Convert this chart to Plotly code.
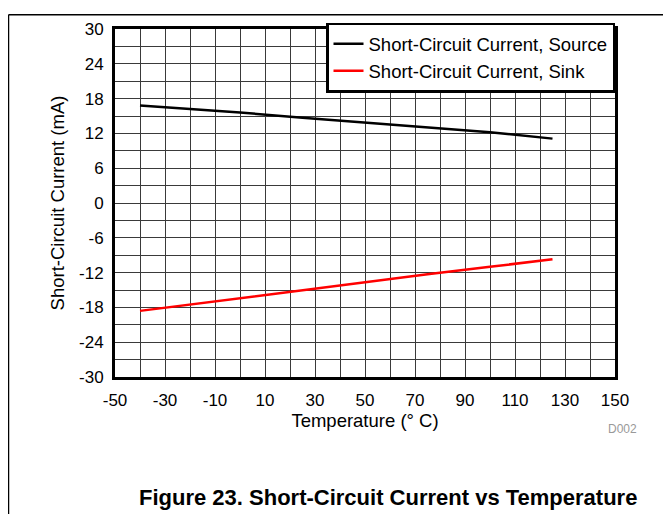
import plotly.graph_objects as go

temperature = [-40, -20, 0, 25, 50, 75, 100, 125]
source_ma = [16.8, 16.2, 15.6, 14.7, 13.9, 13.1, 12.2, 11.1]
sink_ma = [-18.6, -17.5, -16.4, -15.1, -13.6, -12.3, -11.0, -9.7]

x_ticks = list(range(-50, 151, 20))
x_tick_labels = [str(v) for v in x_ticks]
y_ticks = list(range(-30, 31, 6))
y_tick_labels = [str(v) for v in y_ticks]

FONT = "Liberation Sans, Arial, sans-serif"

fig = go.Figure()
fig.add_trace(go.Scatter(x=temperature, y=source_ma, mode="lines",
                         name="Short-Circuit Current, Source",
                         line=dict(color="black", width=2.5)))
fig.add_trace(go.Scatter(x=temperature, y=sink_ma, mode="lines",
                         name="Short-Circuit Current, Sink",
                         line=dict(color="#ff0000", width=2.5)))

grid_color = "#3a3a3a"
fig.update_layout(
    width=663, height=506,
    margin=dict(l=107, r=56, t=15, b=137),
    paper_bgcolor="white", plot_bgcolor="white",
    font=dict(family=FONT, size=17, color="black"),
    showlegend=True,
    legend=dict(x=1, xanchor="right", y=1.018, yanchor="top",
                bgcolor="white", bordercolor="black", borderwidth=2.5,
                font=dict(size=18.5), tracegroupgap=0),
    xaxis=dict(range=[-50, 150], tickvals=x_ticks, ticktext=x_tick_labels, ticks="",
               showgrid=True, gridcolor=grid_color, gridwidth=1,
               minor=dict(dtick=10, tick0=-50, showgrid=True, gridcolor=grid_color, gridwidth=1),
               showline=True, linecolor="black", linewidth=3, mirror=True,
               zeroline=False, ticklabelstandoff=6,
               title=dict(text="Temperature (° C)", font=dict(size=18.5), standoff=2),
               tickfont=dict(size=17)),
    yaxis=dict(range=[-30, 30], tickvals=y_ticks, ticktext=y_tick_labels, ticks="",
               showgrid=True, gridcolor=grid_color, gridwidth=1,
               minor=dict(dtick=3, tick0=-30, showgrid=True, gridcolor=grid_color, gridwidth=1),
               showline=True, linecolor="black", linewidth=3, mirror=True,
               zeroline=False, ticklabelstandoff=5,
               title=dict(text="Short-Circuit Current (mA)", font=dict(size=18.5), standoff=10),
               tickfont=dict(size=17)),
    shapes=[
        dict(type="line", xref="paper", yref="paper", x0=-0.213, x1=1.2,
             y0=1.041, y1=1.041, line=dict(color="black", width=1.5)),
        dict(type="line", xref="paper", yref="paper", x0=-0.213, x1=-0.213,
             y0=1.041, y1=-0.45, line=dict(color="black", width=1.5)),
    ],
    annotations=[
        dict(text="D002", xref="paper", yref="paper", x=1.014, y=-0.1497,
             xanchor="center", yanchor="middle", showarrow=False,
             font=dict(size=12, color="#999999")),
        dict(text="<b>Figure 23. Short-Circuit Current vs Temperature</b>",
             xref="paper", yref="paper", x=0.546, y=-0.346,
             xanchor="center", yanchor="middle", showarrow=False,
             font=dict(size=22, color="black")),
    ],
)

fig.write_html("out.html")
